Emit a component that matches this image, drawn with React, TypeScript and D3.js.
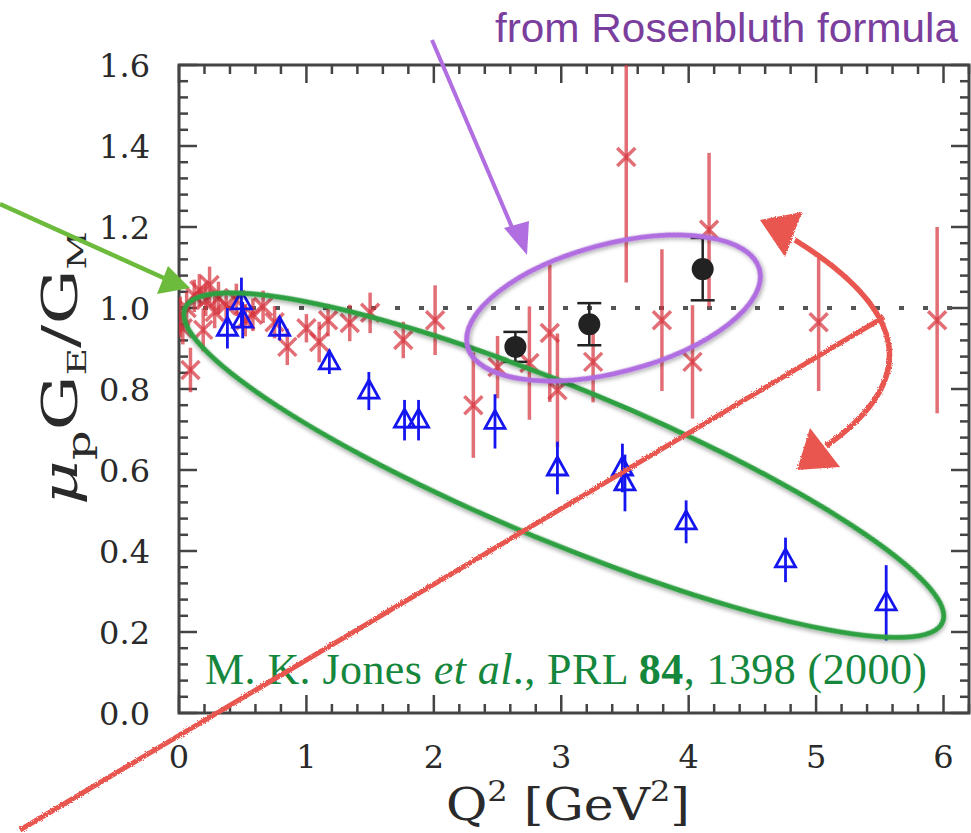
import * as d3 from 'd3';
import { useEffect, useRef } from 'react';

// Rosenbluth separation world data (red)
const rosQ2 = [0.01, 0.03, 0.06, 0.09, 0.12, 0.16, 0.19, 0.21, 0.24, 0.28, 0.31, 0.37, 0.45, 0.52, 0.58, 0.66, 0.75, 0.85, 1.0, 1.1, 1.17, 1.34, 1.5, 1.76, 2.01, 2.31, 2.5, 2.75, 2.91, 2.97, 3.25, 3.51, 3.79, 4.03, 4.16, 5.02, 5.95];
const rosRatio = [0.978, 0.95, 1.0, 0.847, 1.03, 1.044, 0.946, 1.02, 1.057, 0.99, 1.025, 1.007, 1.02, 0.97, 0.983, 1.003, 0.965, 0.904, 0.95, 0.916, 0.97, 0.963, 0.988, 0.921, 0.97, 0.76, 0.854, 0.864, 0.938, 0.797, 0.867, 1.373, 0.97, 0.867, 1.193, 0.965, 0.97];
const rosErr = [0.05, 0.04, 0.04, 0.055, 0.04, 0.04, 0.053, 0.04, 0.045, 0.04, 0.04, 0.035, 0.04, 0.04, 0.04, 0.04, 0.04, 0.045, 0.035, 0.05, 0.04, 0.045, 0.05, 0.045, 0.086, 0.13, 0.077, 0.14, 0.17, 0.14, 0.1, 0.31, 0.175, 0.14, 0.19, 0.17, 0.23];

// Jones et al. polarization transfer (blue)
const jonesQ2 = [0.38, 0.49, 0.5, 0.79, 1.18, 1.49, 1.77, 1.88, 2.48, 2.97, 3.48, 3.5, 3.98, 4.76, 5.55];
const jonesRatio = [0.95, 1.015, 0.97, 0.95, 0.867, 0.795, 0.723, 0.723, 0.72, 0.605, 0.605, 0.568, 0.472, 0.378, 0.272];
const jonesErr = [0.05, 0.06, 0.045, 0.03, 0.03, 0.047, 0.05, 0.05, 0.067, 0.065, 0.06, 0.07, 0.053, 0.055, 0.093];

// new Rosenbluth points (black)
const newQ2 = [2.64, 3.22, 4.11];
const newRatio = [0.904, 0.96, 1.096];
const newErr = [0.037, 0.052, 0.077];

const xTicks = [0, 1, 2, 3, 4, 5, 6];
const yTicks = [0, 0.2, 0.4, 0.6, 0.8, 1.0, 1.2, 1.4, 1.6];

const W = 971;
const H = 833;

function App() {
  const ref = useRef<SVGSVGElement>(null);

  useEffect(() => {
    const svg = d3.select(ref.current);
    svg.selectAll('*').remove();

    const x = d3.scaleLinear().domain([0, 6.2]).range([179, 969]);
    const y = d3.scaleLinear().domain([0, 1.6]).range([713, 65]);
    const [x0, x1] = x.range();
    const [y0, y1] = y.range();

    const defs = svg.append('defs');
    defs.append('clipPath').attr('id', 'frame')
      .append('rect').attr('x', x0).attr('y', y1).attr('width', x1 - x0).attr('height', y0 - y1);
    const sh = defs.append('filter').attr('id', 'shadow')
      .attr('x', '-10%').attr('y', '-20%').attr('width', '120%').attr('height', '140%');
    sh.append('feDropShadow').attr('dx', 1).attr('dy', 2).attr('stdDeviation', 2)
      .attr('flood-color', '#000').attr('flood-opacity', 0.35);
    const rough = defs.append('filter').attr('id', 'rough')
      .attr('x', '-5%').attr('y', '-5%').attr('width', '110%').attr('height', '110%');
    rough.append('feTurbulence').attr('type', 'fractalNoise').attr('baseFrequency', 0.8)
      .attr('numOctaves', 2).attr('result', 'n');
    rough.append('feDisplacementMap').attr('in', 'SourceGraphic').attr('in2', 'n').attr('scale', 3);

    svg.append('rect').attr('width', W).attr('height', H).attr('fill', '#fff');

    // frame + ticks
    const axisCol = '#444';
    svg.append('rect')
      .attr('x', x0).attr('y', y1).attr('width', x1 - x0).attr('height', y0 - y1)
      .attr('fill', 'none').attr('stroke', axisCol).attr('stroke-width', 3);

    const ticks = svg.append('g').attr('stroke', axisCol).attr('stroke-width', 2.5);
    d3.range(0, 6.2 + 1e-9, 0.2).forEach((v) => {
      const major = Math.abs(v - Math.round(v)) < 1e-6;
      const len = major ? 18 : 9;
      ticks.append('line').attr('x1', x(v)).attr('x2', x(v)).attr('y1', y0).attr('y2', y0 - len);
      ticks.append('line').attr('x1', x(v)).attr('x2', x(v)).attr('y1', y1).attr('y2', y1 + len);
    });
    d3.range(0, 1.6 + 1e-9, 0.04).forEach((v) => {
      const major = Math.abs(v * 5 - Math.round(v * 5)) < 1e-6;
      const len = major ? 18 : 9;
      ticks.append('line').attr('y1', y(v)).attr('y2', y(v)).attr('x1', x0).attr('x2', x0 + len);
      ticks.append('line').attr('y1', y(v)).attr('y2', y(v)).attr('x1', x1).attr('x2', x1 - len);
    });

    // tick labels
    svg.append('g').selectAll('text').data(xTicks).enter().append('text')
      .attr('x', (d) => x(d)).attr('y', 768)
      .attr('text-anchor', 'middle')
      .attr('font-family', 'DejaVu Serif').attr('font-size', 32).attr('fill', '#2a2a2a')
      .text((d) => d);
    svg.append('g').selectAll('text').data(yTicks).enter().append('text')
      .attr('x', 150).attr('y', (d) => y(d) + 12)
      .attr('text-anchor', 'end')
      .attr('font-family', 'DejaVu Serif').attr('font-size', 32).attr('fill', '#2a2a2a')
      .text((d) => d.toFixed(1));

    // axis titles
    const xt = svg.append('text').attr('x', 446).attr('y', 820)
      .attr('font-family', 'DejaVu Serif').attr('font-size', 44).attr('fill', '#2a2a2a')
      .attr('textLength', 244).attr('lengthAdjust', 'spacingAndGlyphs');
    xt.append('tspan').text('Q');
    xt.append('tspan').attr('font-size', 28).attr('dy', -19).text('2');
    xt.append('tspan').attr('dy', 19).text('\u00a0[GeV');
    xt.append('tspan').attr('font-size', 28).attr('dy', -19).text('2');
    xt.append('tspan').attr('dy', 19).text(']');

    const yt = svg.append('text').attr('transform', 'translate(77,505) rotate(-90)')
      .attr('font-family', 'DejaVu Serif').attr('font-size', 48).attr('fill', '#2a2a2a')
      .attr('textLength', 274).attr('lengthAdjust', 'spacingAndGlyphs');
    yt.append('tspan').attr('font-style', 'italic').text('\u03bc');
    yt.append('tspan').attr('font-size', 32).attr('dy', 13).text('p');
    yt.append('tspan').attr('dy', -13).text('G');
    yt.append('tspan').attr('font-size', 26).attr('dy', 9).text('E');
    yt.append('tspan').attr('dy', -9).text('/G');
    yt.append('tspan').attr('font-size', 26).attr('dy', 9).text('M');

    const plot = svg.append('g').attr('clip-path', 'url(#frame)');

    // reference line at 1
    plot.append('line')
      .attr('x1', x0).attr('x2', x1).attr('y1', y(1)).attr('y2', y(1))
      .attr('stroke', '#555').attr('stroke-width', 4).attr('stroke-dasharray', '5 19');

    // red Rosenbluth world data
    const red = plot.append('g').attr('stroke', '#d6323c').attr('stroke-opacity', 0.7)
      .attr('stroke-width', 3.5).attr('fill', 'none');
    rosQ2.forEach((q, i) => {
      const cx = x(q);
      const cy = y(rosRatio[i]);
      red.append('line').attr('x1', cx).attr('x2', cx)
        .attr('y1', y(rosRatio[i] - rosErr[i])).attr('y2', y(rosRatio[i] + rosErr[i]));
      const s = 9;
      red.append('path').attr('d', `M${cx - s},${cy - s}L${cx + s},${cy + s}M${cx - s},${cy + s}L${cx + s},${cy - s}`);
    });

    // blue Jones et al. data
    const blue = plot.append('g').attr('stroke', '#1515f0').attr('stroke-width', 2.8).attr('fill', 'none');
    jonesQ2.forEach((q, i) => {
      const cx = x(q);
      const cy = y(jonesRatio[i]);
      blue.append('line').attr('x1', cx).attr('x2', cx)
        .attr('y1', y(jonesRatio[i] - jonesErr[i])).attr('y2', y(jonesRatio[i] + jonesErr[i]));
      blue.append('path').attr('d', `M${cx},${cy - 11}L${cx + 10},${cy + 7}L${cx - 10},${cy + 7}Z`);
    });

    // black new Rosenbluth points
    const blk = plot.append('g').attr('stroke', '#222').attr('stroke-width', 2.5);
    newQ2.forEach((q, i) => {
      const cx = x(q);
      const lo = y(newRatio[i] - newErr[i]);
      const hi = y(newRatio[i] + newErr[i]);
      blk.append('line').attr('x1', cx).attr('x2', cx).attr('y1', lo).attr('y2', hi);
      blk.append('line').attr('x1', cx - 12).attr('x2', cx + 12).attr('y1', lo).attr('y2', lo);
      blk.append('line').attr('x1', cx - 12).attr('x2', cx + 12).attr('y1', hi).attr('y2', hi);
      blk.append('circle').attr('cx', cx).attr('cy', y(newRatio[i])).attr('r', 11)
        .attr('fill', '#222').attr('stroke', 'none');
    });

    // citation
    const cite = svg.append('text').attr('x', 205).attr('y', 684)
      .attr('font-family', 'Liberation Serif').attr('font-size', 44).attr('fill', '#14873c')
      .attr('textLength', 722).attr('lengthAdjust', 'spacing');
    cite.append('tspan').text('M. K. Jones ');
    cite.append('tspan').attr('font-style', 'italic').text('et al');
    cite.append('tspan').text('., PRL ');
    cite.append('tspan').attr('font-weight', 'bold').text('84');
    cite.append('tspan').text(', 1398 (2000)');

    // ellipses
    svg.append('ellipse')
      .attr('cx', x(3.02)).attr('cy', y(0.612)).attr('rx', 410).attr('ry', 77)
      .attr('transform', `rotate(22.5,${x(3.02)},${y(0.612)})`)
      .attr('fill', 'none').attr('stroke', '#2fa043').attr('stroke-width', 5)
      .attr('filter', 'url(#shadow)');
    svg.append('ellipse')
      .attr('cx', x(3.41)).attr('cy', y(1.0)).attr('rx', 151).attr('ry', 64)
      .attr('transform', `rotate(-14.8,${x(3.41)},${y(1.0)})`)
      .attr('fill', 'none').attr('stroke', '#b06ee0').attr('stroke-width', 5)
      .attr('filter', 'url(#shadow)');

    // green arrow
    svg.append('line').attr('x1', 0).attr('y1', 204).attr('x2', 166).attr('y2', 279)
      .attr('stroke', '#6cbb3c').attr('stroke-width', 4.5);
    svg.append('path').attr('d', 'M190,288L157,294L168,266Z').attr('fill', '#6cbb3c');

    // purple arrow + label
    svg.append('line').attr('x1', 432).attr('y1', 40).attr('x2', 514).attr('y2', 232)
      .attr('stroke', '#b06ee0').attr('stroke-width', 4);
    svg.append('path').attr('d', 'M527,255L504,228L529,221Z').attr('fill', '#b06ee0');
    svg.append('text').attr('x', 495).attr('y', 42)
      .attr('font-family', 'Liberation Sans').attr('font-size', 40).attr('fill', '#7a3e9d')
      .attr('textLength', 463).attr('lengthAdjust', 'spacingAndGlyphs')
      .text('from Rosenbluth formula');

    // hand-drawn red line and double arrow
    const hand = svg.append('g').attr('filter', 'url(#rough)');
    hand.append('line').attr('x1', 20).attr('y1', 830).attr('x2', 884).attr('y2', 317)
      .attr('stroke', '#e8574f').attr('stroke-width', 5);
    hand.append('path').attr('d', 'M795,240Q967,347 826,446')
      .attr('fill', 'none').attr('stroke', '#e8574f').attr('stroke-width', 5.5);
    hand.append('path').attr('d', 'M760,220L802,212L785,257Z').attr('fill', '#e8574f');
    hand.append('path').attr('d', 'M810,428L797,470L840,467Z').attr('fill', '#e8574f');
  }, []);

  return (
    <div style={{ position: 'absolute', left: 0, top: 0 }}>
      <svg ref={ref} width={W} height={H} style={{ display: 'block' }}></svg>
    </div>
  );
}

export default App;
